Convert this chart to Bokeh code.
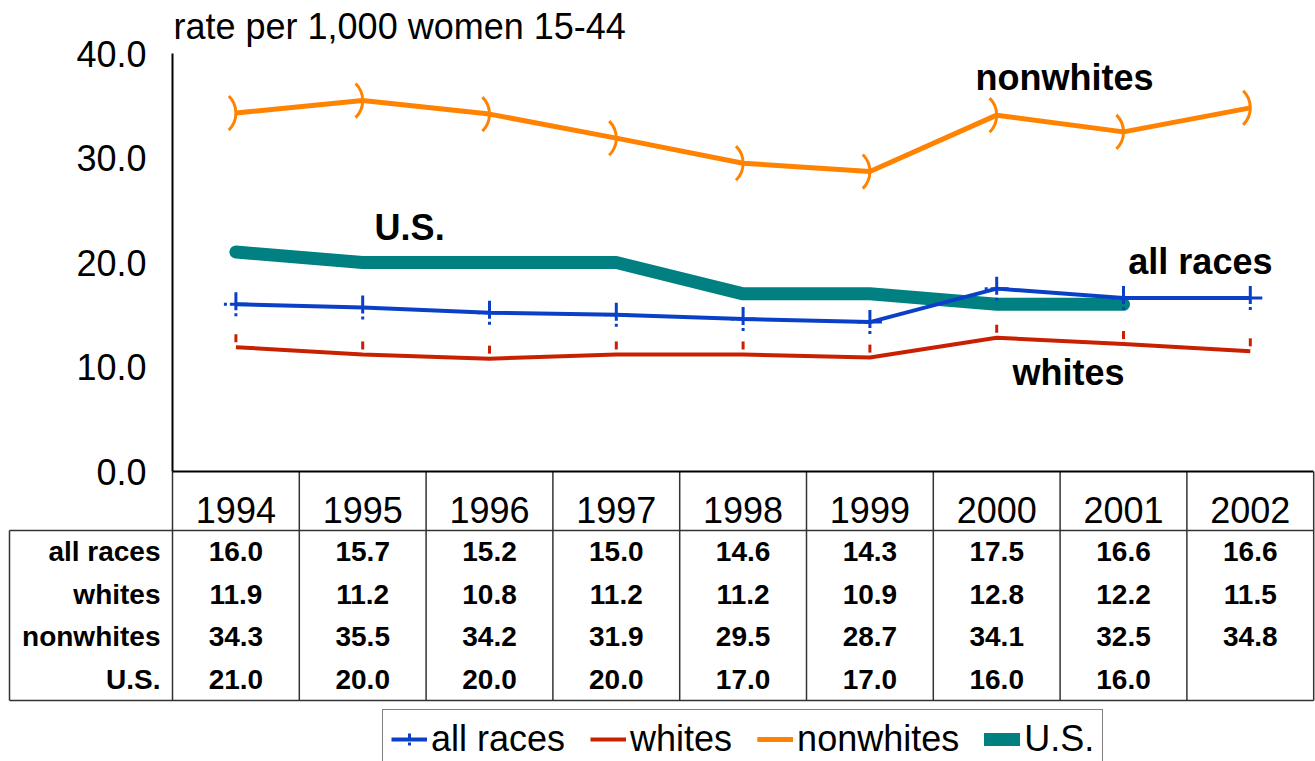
import math
from bokeh.plotting import figure
from bokeh.models import (Range1d, LinearAxis, FixedTicker, NumeralTickFormatter,
                          Legend, LegendItem, ColumnDataSource)
from bokeh.core.properties import value
from bokeh.embed import file_html
from bokeh.resources import INLINE

# ---------------- data ----------------
years = ["1994", "1995", "1996", "1997", "1998", "1999", "2000", "2001", "2002"]
all_races = [16.0, 15.7, 15.2, 15.0, 14.6, 14.3, 17.5, 16.6, 16.6]
whites = [11.9, 11.2, 10.8, 11.2, 11.2, 10.9, 12.8, 12.2, 11.5]
nonwhites = [34.3, 35.5, 34.2, 31.9, 29.5, 28.7, 34.1, 32.5, 34.8]
us = [21.0, 20.0, 20.0, 20.0, 17.0, 17.0, 16.0, 16.0, None]
y_ticks = [0, 10, 20, 30, 40]
series_names = ["all races", "whites", "nonwhites", "U.S."]
y_title = "rate per 1,000 women 15-44"

# ---------------- style ----------------
FONT = "Liberation Sans"
BLUE = "#0A40C8"
RED = "#C82000"
ORANGE = "#FF8200"
TEAL = "#008080"
GRID = "#333333"

W, H = 1315, 761
PX = 126.8           # px per category
PY = 10.45           # px per y unit
LEFT = 172           # px from figure left to the y axis
TOP = 53             # px from figure top to y=40
x_start = -0.5 - LEFT / PX
x_end = x_start + W / PX
y_end = 40 + TOP / PY
y_start = y_end - H / PY

p = figure(width=W, height=H, x_range=Range1d(x_start, x_end),
           y_range=Range1d(y_start, y_end), x_axis_type=None, y_axis_type=None,
           toolbar_location=None, output_backend="svg", min_border=0,
           outline_line_color=None, background_fill_color="white",
           border_fill_color="white")
p.min_border_left = p.min_border_right = p.min_border_top = p.min_border_bottom = 0

xs = list(range(len(years)))

# ---------------- axes ----------------
yaxis = LinearAxis(ticker=FixedTicker(ticks=y_ticks),
                   formatter=NumeralTickFormatter(format="0.0"),
                   bounds=(0, 40), fixed_location=-0.5)
yaxis.major_tick_out = 0
yaxis.major_tick_in = 0
yaxis.minor_tick_out = 0
yaxis.minor_tick_in = 0
yaxis.major_tick_line_color = None
yaxis.minor_tick_line_color = None
yaxis.axis_line_color = "black"
yaxis.axis_line_width = 2
yaxis.major_label_standoff = 26
yaxis.major_label_text_font = FONT
yaxis.major_label_text_font_size = "36px"
yaxis.major_label_text_color = "black"
p.add_layout(yaxis, "left")

xaxis = LinearAxis(ticker=FixedTicker(ticks=xs),
                   bounds=(-0.5, len(years) - 0.5), fixed_location=0)
xaxis.major_label_overrides = {i: y for i, y in enumerate(years)}
xaxis.major_tick_out = 0
xaxis.major_tick_in = 0
xaxis.minor_tick_out = 0
xaxis.minor_tick_in = 0
xaxis.major_tick_line_color = None
xaxis.minor_tick_line_color = None
xaxis.axis_line_color = "black"
xaxis.axis_line_width = 2
xaxis.major_label_standoff = 25
xaxis.major_label_text_font = FONT
xaxis.major_label_text_font_size = "36px"
xaxis.major_label_text_color = "black"
p.add_layout(xaxis, "below")

# ---------------- table grid ----------------
n = len(years)
y_head = -59 / PY       # bottom of header row
y_bot = -229 / PY       # bottom of table
row_h = (y_head - y_bot) / len(series_names)
x_left = -0.5 - (LEFT - 9) / PX
vx0 = [i - 0.5 for i in range(n + 1)]
p.segment(x0=vx0, y0=[y_bot] * (n + 1), x1=vx0, y1=[0] * (n + 1),
          line_color=GRID, line_width=1.5)
p.segment(x0=[x_left, x_left, x_left], y0=[y_head, y_bot, y_bot],
          x1=[n - 0.5, n - 0.5, x_left], y1=[y_head, y_bot, y_head],
          line_color=GRID, line_width=1.5)

# table values
tx, ty, tt = [], [], []
for r, ser in enumerate([all_races, whites, nonwhites, us]):
    yc = y_head - (r + 0.5) * row_h
    for i, v in enumerate(ser):
        if v is not None:
            tx.append(i)
            ty.append(yc)
            tt.append("%.1f" % v)
p.text(x="x", y="y", text="t", source=ColumnDataSource(dict(x=tx, y=ty, t=tt)),
       text_font=value(FONT), text_font_style="bold", text_font_size="28px",
       text_align="center", text_baseline="middle", text_color="black")
p.text(x=[-0.5] * 4, y=[y_head - (r + 0.5) * row_h for r in range(4)],
       text=series_names, x_offset=-12, text_font=value(FONT),
       text_font_style="bold", text_font_size="28px", text_align="right",
       text_baseline="middle", text_color="black")

# y title
p.text(x=[-0.5], y=[(471 - 26) / PY], text=[y_title], x_offset=1,
       text_font=value(FONT), text_font_size="36px", text_align="left",
       text_baseline="middle", text_color="black")

# ---------------- series ----------------
us_x = [i for i, v in enumerate(us) if v is not None]
us_y = [v for v in us if v is not None]
r_us = p.line(us_x, us_y, line_color=TEAL, line_width=13,
              line_cap="round", line_join="round")

r_all = p.line(xs, all_races, line_color=BLUE, line_width=4)
r_all_m = p.scatter(xs, all_races, marker="cross", size=24,
                    line_color=BLUE, line_width=3, line_dash="3 3 18")

r_wh = p.line(xs, whites, line_color=RED, line_width=4)
r_wh_m = p.scatter(xs, [v + 9 / PY for v in whites], marker="dash",
                   angle=math.pi / 2, size=8, line_color=RED, line_width=3)

r_nw = p.line(xs, nonwhites, line_color=ORANGE, line_width=5)
arc_r = 24 / PX
r_nw_m = p.arc(x=[i - arc_r for i in xs], y=nonwhites, radius=arc_r,
               start_angle=-0.79, end_angle=0.79, line_color=ORANGE, line_width=3)

# ---------------- in-chart labels ----------------
lab_txt = ["nonwhites", "U.S.", "all races", "whites"]
lab_x = [(1063 - 233) / 127, (407 - 233) / 127, (1199 - 233) / 127, (1067 - 233) / 127]
lab_y = [(471 - 77) / PY, (471 - 227) / PY, (471 - 261) / PY, (471 - 372) / PY]
p.text(x=lab_x, y=lab_y, text=lab_txt, text_font=value(FONT),
       text_font_style="bold", text_font_size="36px", text_align="center",
       text_baseline="middle", text_color="black")

# ---------------- legend ----------------
legend = Legend(items=[
    LegendItem(label=series_names[0], renderers=[r_all, r_all_m]),
    LegendItem(label=series_names[1], renderers=[r_wh, r_wh_m]),
    LegendItem(label=series_names[2], renderers=[r_nw, r_nw_m]),
    LegendItem(label=series_names[3], renderers=[r_us]),
], orientation="horizontal", location=(382, -8))
legend.label_text_font = FONT
legend.label_text_font_size = "36px"
legend.label_text_color = "black"
legend.glyph_width = 36
legend.glyph_height = 30
legend.label_standoff = 4
legend.spacing = 25
legend.padding = 8
legend.margin = 0
legend.border_line_color = "black"
legend.border_line_width = 1.5
legend.background_fill_color = "white"
legend.background_fill_alpha = 1.0
p.add_layout(legend)

open("out.html", "w").write(file_html(p, INLINE))
